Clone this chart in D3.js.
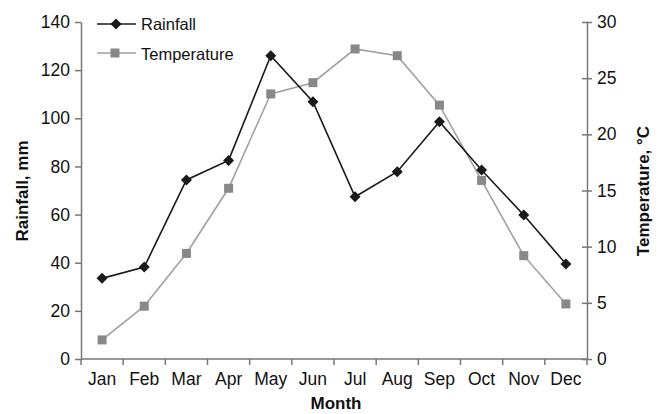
<!DOCTYPE html>
<html><head><meta charset="utf-8">
<script src="https://cdn.jsdelivr.net/npm/d3@7"></script>
<style>body{margin:0;background:#fff}svg{display:block}text{font-family:"Liberation Sans",Arial,sans-serif}</style>
</head><body><svg id="c" width="661" height="414"></svg>
<script>
const months = ["Jan","Feb","Mar","Apr","May","Jun","Jul","Aug","Sep","Oct","Nov","Dec"];
const rainfall = [33.5,38.2,74.4,82.5,126,106.9,67.4,77.8,98.6,78.5,59.8,39.5];
const temperature = [1.7,4.7,9.4,15.2,23.6,24.6,27.6,27.0,22.6,15.9,9.2,4.9];
const leftTicks = [0,20,40,60,80,100,120,140];
const rightTicks = [0,5,10,15,20,25,30];

const svg = d3.select("#c");
const L = 81, R = 587, T = 22, B = 359;
const x = d3.scaleBand().domain(months).range([L, R]);
const yL = d3.scaleLinear().domain([0,140]).range([B, T]);
const yR = d3.scaleLinear().domain([0,30]).range([B, T]);
const axisCol = "#777";
const FS = 17.5;

function style(g){
  g.selectAll("path,line").attr("stroke", axisCol).attr("stroke-width", 1.5);
  g.selectAll("text").attr("font-size", FS).attr("fill", "#111");
}
const gx = svg.append("g").attr("transform", `translate(0,${B})`)
  .call(d3.axisBottom(x).tickSize(0).tickPadding(14).tickSizeOuter(0));
style(gx);
gx.select(".domain").attr("d", `M${L},0H${R}`);
gx.selectAll(".bt").data(d3.range(0,13)).enter().append("line")
  .attr("x1", i => L + i*x.step()).attr("x2", i => L + i*x.step())
  .attr("y1", 0).attr("y2", 6).attr("stroke", axisCol).attr("stroke-width", 1.5);

const gl = svg.append("g").attr("transform", `translate(${L},0)`)
  .call(d3.axisLeft(yL).tickValues(leftTicks).tickSize(6).tickPadding(5).tickSizeOuter(0));
style(gl);
const gr = svg.append("g").attr("transform", `translate(${R},0)`)
  .call(d3.axisRight(yR).tickValues(rightTicks).tickSize(0).tickPadding(10).tickSizeOuter(0));
style(gr);
gr.selectAll(".tick line").attr("x1", -5).attr("x2", 5);

const cx = d => x(d) + x.bandwidth()/2;
const tCol = "#a0a0a0", tMark = "#888";
svg.append("path").datum(temperature)
  .attr("d", d3.line().x((d,i)=>cx(months[i])).y(d=>yR(d)))
  .attr("fill","none").attr("stroke",tCol).attr("stroke-width",1.6);
svg.selectAll(".tm").data(temperature).enter().append("rect")
  .attr("x",(d,i)=>cx(months[i])-4.5).attr("y",d=>yR(d)-4.5)
  .attr("width",9).attr("height",9).attr("fill",tMark);
const rCol = "#1a1a1a";
svg.append("path").datum(rainfall)
  .attr("d", d3.line().x((d,i)=>cx(months[i])).y(d=>yL(d)))
  .attr("fill","none").attr("stroke",rCol).attr("stroke-width",1.6);
const dm = "M0,-5.5L5.5,0L0,5.5L-5.5,0Z";
svg.selectAll(".rm").data(rainfall).enter().append("path")
  .attr("d", dm)
  .attr("transform",(d,i)=>`translate(${cx(months[i])},${yL(d)})`)
  .attr("fill",rCol);

const lg = svg.append("g");
lg.append("line").attr("x1",97).attr("x2",136).attr("y1",24).attr("y2",24).attr("stroke",rCol).attr("stroke-width",1.6);
lg.append("path").attr("d",dm).attr("transform","translate(116,24)").attr("fill",rCol);
lg.append("text").attr("x",141).attr("y",30).attr("font-size",16.5).attr("fill","#111").text("Rainfall");
lg.append("line").attr("x1",97).attr("x2",136).attr("y1",53).attr("y2",53).attr("stroke",tCol).attr("stroke-width",1.6);
lg.append("rect").attr("x",110.5).attr("y",48.5).attr("width",9).attr("height",9).attr("fill",tMark);
lg.append("text").attr("x",141).attr("y",59.5).attr("font-size",16.5).attr("fill","#111").text("Temperature");

svg.append("text").attr("transform",`translate(28,191) rotate(-90)`)
  .attr("text-anchor","middle").attr("font-size",17).attr("font-weight","bold").attr("fill","#111").text("Rainfall, mm");
svg.append("text").attr("transform",`translate(649,191) rotate(-90)`)
  .attr("text-anchor","middle").attr("font-size",17).attr("font-weight","bold").attr("fill","#111").text("Temperature, °C");
svg.append("text").attr("x",336).attr("y",409).attr("text-anchor","middle")
  .attr("font-size",17).attr("font-weight","bold").attr("fill","#111").text("Month");
</script></body></html>
